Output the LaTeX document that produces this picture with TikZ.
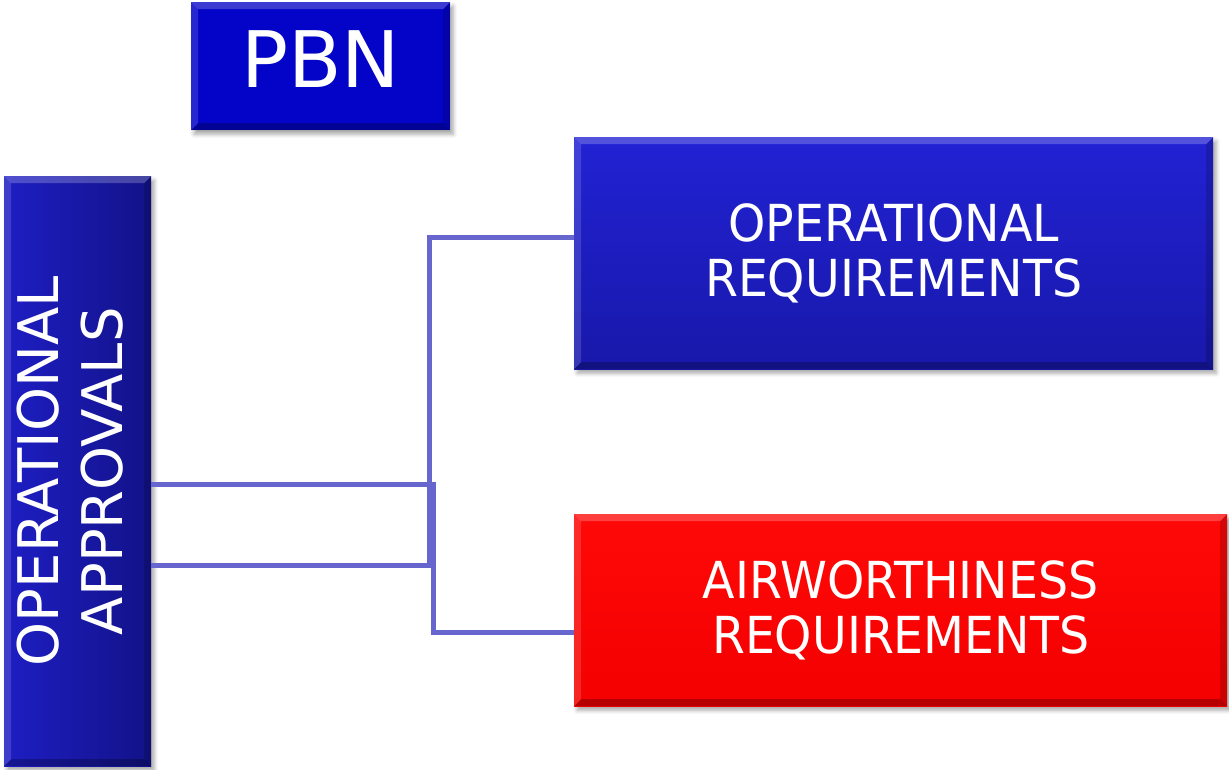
\documentclass[tikz,border=0pt]{standalone}
\usepackage{fontspec}
\setmainfont{DejaVu Sans}
\newfontfamily\narrowfont[FakeStretch=0.93]{DejaVu Sans}
\usetikzlibrary{shadows.blur}

\definecolor{pbnblue}{RGB}{4,4,200}
\definecolor{reqtop}{RGB}{34,34,212}
\definecolor{reqbot}{RGB}{24,24,170}
\definecolor{apleft}{RGB}{30,30,196}
\definecolor{apright}{RGB}{18,18,136}
\definecolor{redtop}{RGB}{255,8,8}
\definecolor{redbot}{RGB}{244,0,0}
\definecolor{linkcol}{RGB}{102,102,206}

\tikzset{
  % bevelled panel: light top/left faces, dark bottom/right faces
  bevel/.style={path picture={
    \path (path picture bounding box.north west) coordinate (bb-nw)
          (path picture bounding box.north east) coordinate (bb-ne)
          (path picture bounding box.south west) coordinate (bb-sw)
          (path picture bounding box.south east) coordinate (bb-se);
    \fill[white,opacity=.22] (bb-nw) -- (bb-ne) -- ([shift={(-7pt,-7pt)}]bb-ne) -- ([shift={(7pt,-7pt)}]bb-nw) -- cycle;
    \fill[white,opacity=.14] (bb-nw) -- ([shift={(7pt,-7pt)}]bb-nw) -- ([shift={(7pt,7pt)}]bb-sw) -- (bb-sw) -- cycle;
    \fill[black,opacity=.25] (bb-sw) -- ([shift={(7pt,7pt)}]bb-sw) -- ([shift={(-7pt,7pt)}]bb-se) -- (bb-se) -- cycle;
    \fill[black,opacity=.16] (bb-se) -- ([shift={(-7pt,7pt)}]bb-se) -- ([shift={(-7pt,-7pt)}]bb-ne) -- (bb-ne) -- cycle;
  }},
  panel/.style={rectangle, anchor=north west, inner sep=0pt, text=white,
    align=center, bevel,
    blur shadow={shadow xshift=3pt, shadow yshift=-4pt, shadow opacity=35, shadow blur radius=4pt}},
  reqtext/.style={font=\narrowfont\fontsize{51}{55}\selectfont},
  link/.style={draw=linkcol, line width=5pt}
}

\begin{document}
\begin{tikzpicture}[x=1pt, y=-1pt]
\useasboundingbox (0,0) rectangle (1229,769);

\node[panel, fill=pbnblue, minimum width=259pt, minimum height=128pt,
      font=\fontsize{78}{80}\selectfont, text height=57pt, text depth=15pt]
  (pbn) at (191,2) {PBN};

\node[panel, left color=apleft, right color=apright,
      minimum width=147pt, minimum height=590pt,
      font=\fontsize{56}{64}\selectfont]
  (appr) at (4,176)
  {\rotatebox{90}{\begin{tabular}{@{}c@{}}OPERATIONAL\\APPROVALS\end{tabular}}};

\node[panel, reqtext, top color=reqtop, bottom color=reqbot,
      minimum width=639pt, minimum height=232pt]
  (opreq) at (574,137) {OPERATIONAL\\REQUIREMENTS};

\node[panel, reqtext, top color=redtop, bottom color=redbot,
      minimum width=653pt, minimum height=192pt]
  (airreq) at (574,514) {AIRWORTHINESS\\REQUIREMENTS};

% elbow links from the approvals column to the two requirement panels
\draw[link] ([yshift=-94pt]appr.east) -- ++(278pt,0) |- ([yshift=16pt]opreq.west);
\draw[link] ([yshift=-13pt]appr.east) -- ++(282pt,0) |- ([yshift=-22pt]airreq.west);
\end{tikzpicture}
\end{document}
